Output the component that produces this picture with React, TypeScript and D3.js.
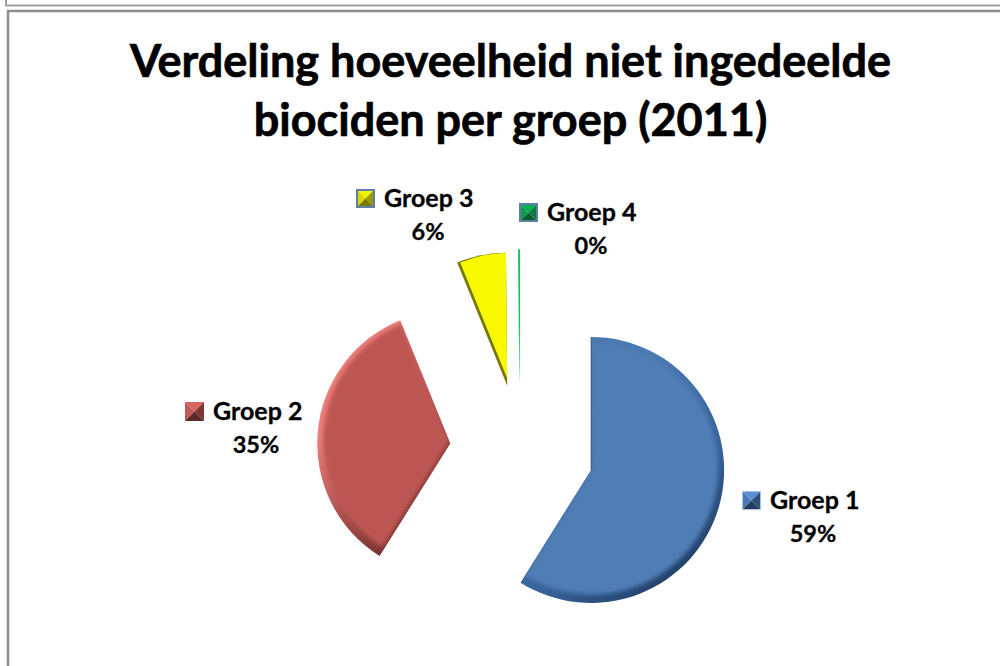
import React from 'react';
import * as d3 from 'd3';

const titleLines = ['Verdeling hoeveelheid niet ingedeelde', 'biociden per groep (2011)'];
const categories = ['Groep 1', 'Groep 2', 'Groep 3', 'Groep 4'];
const values = [59, 35, 6, 0.15];
const percentLabels = ['59%', '35%', '6%', '0%'];
// per-slice explosion, as the original chart had them dragged out by hand
const explosions = [74, 70, 65, 67];

const faceColors = ['#4f7db5', '#bd5753', '#f8f800', '#00b050'];
const rimLight = ['#4a79b0', '#ee7f7b', '#777700', '#00b050'];
const rimMid = ['#38639a', '#a04845', '#777700', '#00b050'];
const rimDark = ['#1d3a5e', '#5e2a28', '#777700', '#00b050'];
const keyTop = ['#5a8fd6', '#d9655f', '#f2f200', '#00b050'];
const keyLeft = ['#4a78b4', '#c05a56', '#d8d800', '#0c9a4c'];
const keyRight = ['#2e5078', '#7e3633', '#9a9a00', '#0a7a3e'];
const keyBottom = ['#233e60', '#5e2a28', '#7a7a00', '#075c30'];
const keyBorder = ['#a9c3e2', '#c98a88', '#5f7ea6', '#5f7ea6'];
const keyBorderWidth = [1, 0, 2, 2];

// label anchor (key left edge, first baseline), in page pixels
const labelX = [742, 185, 356, 519];
const labelY = [509, 420, 207, 221];
const percentX = [813, 256, 428, 591];

// bevel of each slice: how far the face slides, is inset, and how soft it is
const faceShift = [[1, -1.5], [-1, -3], [3, 0], [0, 0]];
const faceInset = [7, 7, 0, 0];
const faceBlur = [2.2, 2, 0.5, 0];

const width = 1000;
const height = 666;
const cx = 520;
const cy = 449.5;
const radius = 133;

export default function App() {
  const pie = d3.pie<number>().sort(null)(values);
  const arc = d3.arc<d3.PieArcDatum<number>>().innerRadius(0).outerRadius(radius);

  return (
    <svg width={width} height={height} style={{ position: 'absolute', left: 0, top: 0 }}>
      <defs>
        {pie.map((d, i) => (
          <filter key={i} id={'soft' + i} x="-15%" y="-15%" width="130%" height="130%">
            <feGaussianBlur stdDeviation={faceBlur[i]} />
          </filter>
        ))}
        {pie.map((d, i) => (
          <linearGradient key={i} id={'rim' + i} x1="0.1" y1="0" x2="0.75" y2="1">
            <stop offset="0.3" stopColor={rimLight[i]} />
            <stop offset="0.68" stopColor={rimMid[i]} />
            <stop offset="1" stopColor={rimDark[i]} />
          </linearGradient>
        ))}
        <linearGradient id="fade" x1="0" y1="0" x2="0" y2="1">
          <stop offset="0.6" stopColor={faceColors[3]} />
          <stop offset="1" stopColor={faceColors[3]} stopOpacity={0.1} />
        </linearGradient>
        {pie.map((d, i) => (
          <clipPath key={i} id={'clip' + i}>
            <path d={arc(d) as string} />
          </clipPath>
        ))}
      </defs>

      <rect x={0} y={0} width={width} height={height} fill="#fff" />
      <path d={`M6,0V5.5H${width}`} fill="none" stroke="#a0a0a0" strokeWidth={2} />
      <path d={`M8,${height}V11H${width}`} fill="none" stroke="#8c8c8c" strokeWidth={2.5} />

      <g
        fontFamily="Lato, 'Open Sans', sans-serif"
        fontWeight={700}
        fill="#000"
        stroke="#000"
        strokeWidth={0.7}
      >
        {titleLines.map((t, i) => (
          <text key={t} x={510.5} y={77 + i * 59} textAnchor="middle" fontSize={45}>
            {t}
          </text>
        ))}
      </g>

      {pie.map((d, i) => {
        const mid = (d.startAngle + d.endAngle) / 2;
        const x = cx + Math.sin(mid) * explosions[i];
        const y = cy - Math.cos(mid) * explosions[i];
        const inner = d3.arc<d3.PieArcDatum<number>>().innerRadius(0).outerRadius(radius - faceInset[i]);
        const edge = d3.pointRadial(d.startAngle, radius);
        return (
          <g key={i} transform={`translate(${x},${y})`}>
            <path
              d={arc(d) as string}
              fill={i === 3 ? 'url(#fade)' : `url(#rim${i})`}
              stroke={i === 3 ? 'url(#fade)' : 'none'}
              strokeWidth={i === 3 ? 0.6 : 0}
            />
            {i < 3 && (
              <g clipPath={`url(#clip${i})`}>
                <path
                  d={inner(d) as string}
                  transform={`translate(${faceShift[i][0]},${faceShift[i][1]})`}
                  fill={faceColors[i]}
                  filter={`url(#soft${i})`}
                />
              </g>
            )}
            {i === 0 && <line x1={0} y1={0} x2={edge[0]} y2={edge[1]} stroke={rimDark[0]} strokeOpacity={0.7} />}
          </g>
        );
      })}

      <g
        fontFamily="Lato, 'Open Sans', sans-serif"
        fontWeight={700}
        fontSize={25}
        fill="#000"
        stroke="#000"
        strokeWidth={0.3}
      >
        {categories.map((c, i) => {
          const s = 19;
          const kx = labelX[i];
          const ky = labelY[i] - 18;
          const mx = kx + s / 2;
          const my = ky + s / 2;
          const b = keyBorderWidth[i];
          return (
            <g key={c}>
              <g stroke="none">
                <path d={`M${kx},${ky}H${kx + s}L${mx},${my}Z`} fill={keyTop[i]} />
                <path d={`M${kx},${ky}V${ky + s}L${mx},${my}Z`} fill={keyLeft[i]} />
                <path d={`M${kx + s},${ky}V${ky + s}L${mx},${my}Z`} fill={keyRight[i]} />
                <path d={`M${kx},${ky + s}H${kx + s}L${mx},${my}Z`} fill={keyBottom[i]} />
              </g>
              {b > 0 && (
                <rect
                  x={kx + b / 2}
                  y={ky + b / 2}
                  width={s - b}
                  height={s - b}
                  fill="none"
                  stroke={keyBorder[i]}
                  strokeWidth={b}
                />
              )}
              <text x={kx + 28} y={labelY[i]}>
                {c}
              </text>
              <text x={percentX[i]} y={labelY[i] + 33} textAnchor="middle" fontSize={23.5}>
                {percentLabels[i]}
              </text>
            </g>
          );
        })}
      </g>
    </svg>
  );
}
